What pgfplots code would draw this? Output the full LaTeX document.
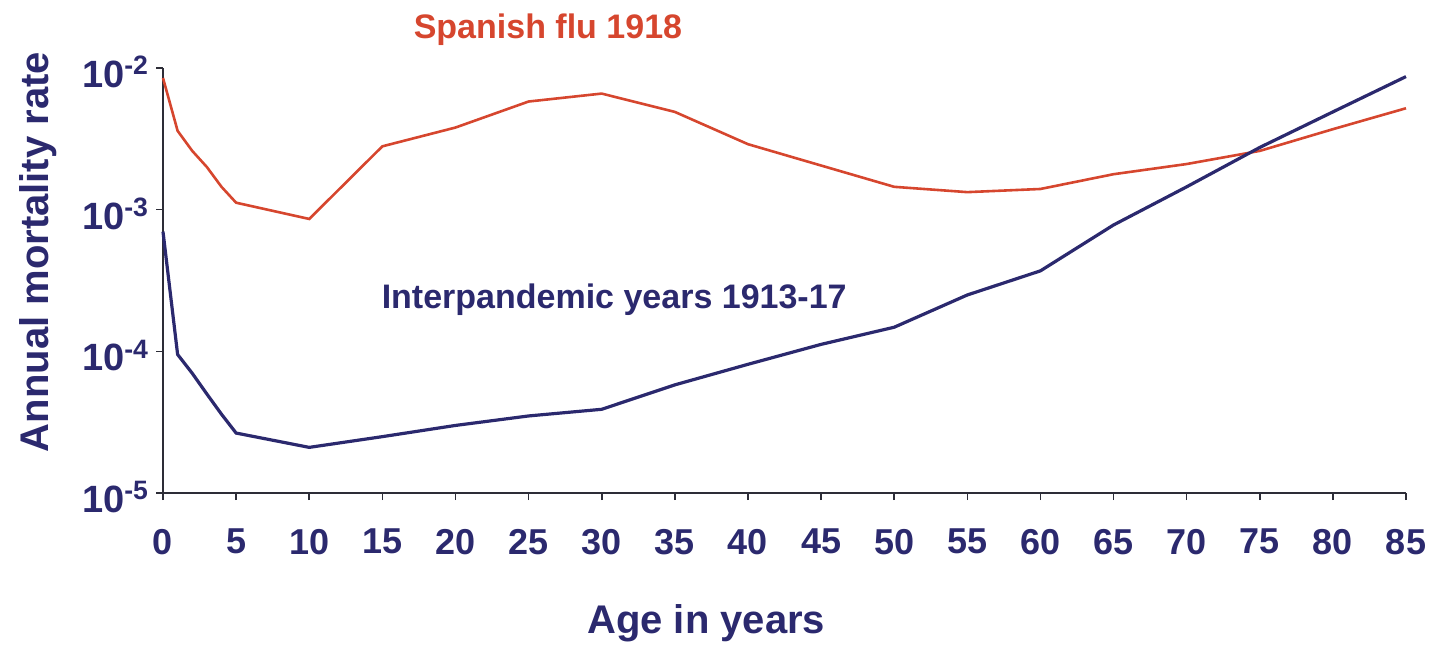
\documentclass[border=0pt]{standalone}
\usepackage{fontspec}
\setmainfont{Liberation Sans}
\usepackage{pgfplots}
\pgfplotsset{compat=1.18}

\definecolor{fluRed}{RGB}{214,70,46}
\definecolor{navy}{RGB}{43,41,110}
\definecolor{axisgray}{RGB}{45,45,55}

% Annual mortality rate by age (log scale)
\pgfplotstableread{
age  rate
0    8.5e-3
1    3.6e-3
2    2.6e-3
3    2.0e-3
4    1.45e-3
5    1.12e-3
10   8.6e-4
15   2.8e-3
20   3.8e-3
25   5.8e-3
30   6.6e-3
35   4.9e-3
40   2.9e-3
45   2.05e-3
50   1.45e-3
55   1.33e-3
60   1.40e-3
65   1.78e-3
70   2.1e-3
75   2.6e-3
80   3.7e-3
85   5.2e-3
}\spanish

\pgfplotstableread{
age  rate
0    7.0e-4
1    9.5e-5
2    7.0e-5
3    5.0e-5
4    3.6e-5
5    2.65e-5
10   2.1e-5
15   2.5e-5
20   3.0e-5
25   3.5e-5
30   3.9e-5
35   5.8e-5
40   8.1e-5
45   1.12e-4
50   1.48e-4
55   2.5e-4
60   3.7e-4
65   7.8e-4
70   1.45e-3
75   2.75e-3
80   4.9e-3
85   8.7e-3
}\interpandemic

\begin{document}
\begin{tikzpicture}
\begin{axis}[
  name=ax,
  scale only axis,
  width=621.5pt, height=212.5pt,
  xmin=0, xmax=85,
  ymode=log, ymin=1e-5, ymax=1e-2,
  axis lines=left,
  axis line style={-, axisgray, line width=1pt},
  tick style={axisgray, line width=0.8pt},
  tick align=outside,
  major tick length=3.5pt,
  yminorticks=false,
  xtick={0,5,...,85},
  ytick={1e-5,1e-4,1e-3,1e-2},
  yticklabels={10\textsuperscript{-5},10\textsuperscript{-4},10\textsuperscript{-3},10\textsuperscript{-2}},
  /pgf/number format/assume math mode=true,
  xticklabel style={font=\fontsize{18}{18}\selectfont\bfseries, text=navy, yshift=-11pt},
  yticklabel style={font=\fontsize{19}{19}\selectfont\bfseries, text=navy, yshift=-2pt},
  xlabel={Age in years},
  xlabel style={font=\fontsize{20}{20}\selectfont\bfseries, text=navy,
    at={(axis description cs:0.437,0)}, anchor=center, yshift=-65pt},
  ylabel={Annual mortality rate},
  ylabel style={font=\fontsize{20}{20}\selectfont\bfseries, text=navy,
    at={(axis description cs:-0.1006,0.567)}, anchor=center},
  clip=false,
]
\addplot[fluRed, line width=1.3pt] table[x=age, y=rate] {\spanish};
\addplot[navy, line width=1.6pt] table[x=age, y=rate] {\interpandemic};

\node[font=\fontsize{17}{17}\selectfont\bfseries, text=fluRed]
  at (rel axis cs:0.3097,1.0894) {Spanish flu 1918};
\node[font=\fontsize{17}{17}\selectfont\bfseries, text=navy]
  at (rel axis cs:0.363,0.4543) {Interpandemic years 1913-17};
\end{axis}
\pgfresetboundingbox
\path[use as bounding box] ([shift={(-81.5pt,-84pt)}]ax.south west)
  rectangle ([shift={(18pt,34pt)}]ax.north east);
\end{tikzpicture}
\end{document}
